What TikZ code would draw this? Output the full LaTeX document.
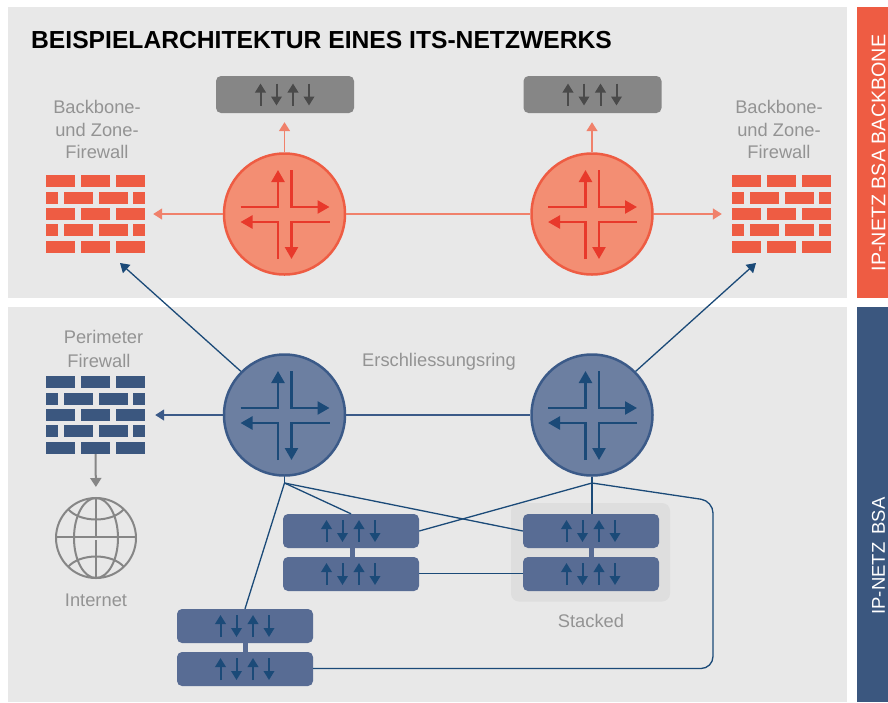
\documentclass[tikz,border=0pt]{standalone}
\usepackage{fontspec}
\setmainfont{Liberation Sans}
\usetikzlibrary{arrows.meta}
\definecolor{panel}{HTML}{E8E8E8}
\definecolor{stackbg}{HTML}{DEDEDE}
\definecolor{orbar}{HTML}{EE5C43}
\definecolor{blbar}{HTML}{3B577F}
\definecolor{orfill}{HTML}{F38E73}
\definecolor{orline}{HTML}{EE5C43}
\definecolor{orarrow}{HTML}{E8392B}
\definecolor{orconn}{HTML}{F0816B}
\definecolor{blfill}{HTML}{6C7FA1}
\definecolor{blline}{HTML}{3B5A88}
\definecolor{blarrow}{HTML}{1B4A78}
\definecolor{swfill}{HTML}{586C94}
\definecolor{gyfill}{HTML}{868686}
\definecolor{gyarrow}{HTML}{4A4A4A}
\definecolor{gytext}{HTML}{939393}
\tikzset{
  x=1pt,y=-1pt,
  lbl/.style={text=gytext,font=\fontsize{18.3}{22.5}\selectfont,align=center,inner sep=0pt},
  barlbl/.style={text=white,rotate=90,inner sep=0pt},
  routernode/.style={circle,minimum size=121,inner sep=0pt,line width=2.5},
  swnode/.style={rounded corners=5,minimum height=34,inner sep=0pt},
  orc/.style={draw=orconn,line width=1.5},
  blc/.style={draw=blarrow,line width=1.3},
  blr/.style={draw=blline,line width=1.5},
  tipor/.style={-{Triangle[length=9,width=11]},fill=orconn},
  tipbl/.style={-{Triangle[length=9,width=11]}},
  ra/.style={line width=2.4,-{Triangle[length=12,width=13]},line join=miter},
  sa/.style={line width=2,-{Triangle[length=9,width=10.5]}},
}
% name, x, y, fill, line, arrow
\newcommand{\routerat}[6]{%
  \node[routernode,fill=#4,draw=#5] (#1) at (#2,#3) {};
  \begin{scope}[shift={(#2,#3)},draw=#6,color=#6]
    \draw[ra] (-44,-7) -- (-6.5,-7) -- (-6.5,-44);
    \draw[ra] (7,-44) -- (7,-7) -- (45,-7);
    \draw[ra] (-6.5,45) -- (-6.5,8) -- (-44,8);
    \draw[ra] (45,8) -- (7,8) -- (7,45);
  \end{scope}}
% name, x, y, width, fill, arrow, height
\newcommand{\switchat}[7]{%
  \node[swnode,minimum width=#4,minimum height=#7,fill=#5] (#1) at (#2,#3) {};
  \begin{scope}[shift={(#2,#3)},color=#6]
    \draw[sa] (-24.5,11) -- (-24.5,-11);
    \draw[sa] (-8.5,-11) -- (-8.5,11);
    \draw[sa] (8,11) -- (8,-11);
    \draw[sa] (24,-11) -- (24,11);
  \end{scope}}
% name, x-left, y-top, colour
\newcommand{\firewallat}[4]{%
  \node[minimum width=99,minimum height=78,inner sep=0pt] (#1) at (#2+49.5,#3+39) {};
  \begin{scope}[shift={(#2,#3)}]
    \foreach \yy in {0,33,66}{
      \fill[#4] (0,\yy) rectangle +(29,12);
      \fill[#4] (35,\yy) rectangle +(29,12);
      \fill[#4] (70,\yy) rectangle +(29,12);}
    \foreach \yy in {17,49}{
      \fill[#4] (0,\yy) rectangle +(12,12);
      \fill[#4] (18,\yy) rectangle +(29,12);
      \fill[#4] (53,\yy) rectangle +(29,12);
      \fill[#4] (87,\yy) rectangle +(12,12);}
  \end{scope}}
\begin{document}
\begin{tikzpicture}
\useasboundingbox (0,0) rectangle (888,702);
\fill[white] (0,0) rectangle (888,702);
% panels
\fill[panel] (8,7) rectangle (847,298);
\fill[panel] (8,307) rectangle (847,702);
\fill[orbar] (857,7) rectangle (888,298);
\fill[blbar] (857,307) rectangle (888,702);
\node[barlbl,font=\fontsize{19.7}{22}\selectfont] (barTop) at (878.5,153) {IP-NETZ BSA BACKBONE};
\node[barlbl,font=\fontsize{18.5}{22}\selectfont] (barBot) at (878.5,556) {IP-NETZ\, BSA};
\node[anchor=base west,inner sep=0pt,font=\fontsize{24.65}{26}\selectfont\bfseries] (title) at (31,48.5) {BEISPIELARCHITEKTUR EINES ITS-NETZWERKS};
% stacked backdrop
\fill[stackbg,rounded corners=8] (511,503) rectangle (670,601.5);
% routers
\routerat{r1}{284.5}{214}{orfill}{orline}{orarrow}
\routerat{r2}{592}{214}{orfill}{orline}{orarrow}
\routerat{r3}{284.5}{415}{blfill}{blline}{blarrow}
\routerat{r4}{592}{415}{blfill}{blline}{blarrow}
% grey switches
\switchat{g1}{285}{94.5}{138}{gyfill}{gyarrow}{37}
\switchat{g2}{592.5}{94.5}{138}{gyfill}{gyarrow}{37}
% firewalls
\firewallat{fw1}{46}{175}{orbar}
\firewallat{fw2}{732}{175}{orbar}
\firewallat{fw3}{46}{376}{blbar}
% blue switches
\fill[swfill] (349.5,540) rectangle (354.5,565);
\fill[swfill] (588.5,540) rectangle (593.5,565);
\fill[swfill] (242.5,635) rectangle (247.5,660);
\switchat{a1}{351}{531}{136}{swfill}{blarrow}{34}
\switchat{a2}{351}{574}{136}{swfill}{blarrow}{34}
\switchat{b1}{591}{531}{136}{swfill}{blarrow}{34}
\switchat{b2}{591}{574}{136}{swfill}{blarrow}{34}
\switchat{c1}{245}{626}{136}{swfill}{blarrow}{34}
\switchat{c2}{245}{669}{136}{swfill}{blarrow}{34}
% labels
\node[lbl] (l1) at (97,129.5) {Backbone-\\und Zone-\\Firewall};
\node[lbl] (l2) at (779,129.5) {Backbone-\\und Zone-\\Firewall};
\node[lbl,font=\fontsize{18.3}{24}\selectfont] (l3) at (103.5,349) {Perimeter\\Firewall\hspace*{9pt}};
\node[lbl] (l4) at (439,362) {Erschliessungsring};
\node[lbl] (l5) at (96,600) {Internet};
\node[lbl] (l6) at (591,621) {Stacked};
% orange connectors
\draw[orc] (r1) -- (r2);
\draw[orc,tipor,shorten >=8] (r1.west) -- (fw1.east);
\draw[orc,tipor,shorten >=10] (r2.east) -- (fw2.west);
\draw[orc,tipor,shorten >=9] (r1.north) -- (r1.north |- g1.south);
\draw[orc,tipor,shorten >=9] (r2.north) -- (r2.north |- g2.south);
% blue connectors
\coordinate (t1) at (120,263);
\coordinate (t2) at (756,263);
\coordinate (j3) at (284.5,483);
\coordinate (j4) at (592,483);
\draw[blc,tipbl] (r3.135) -- (t1);
\draw[blc,tipbl] (r4.45) -- (t2);
\draw[blr] (r3) -- (r4);
\draw[blr,tipbl,shorten >=10] (r3.west) -- (fw3.east);
\draw[blc] (r3.south) -- (j3);
\draw[blc] (j3) -- (a1.north);
\draw[blc] (j3) -- (b1.west);
\draw[blc] (j3) -- (c1.north);
\draw[blc] (r4.south) -- (r4.south |- b1.north);
\draw[blc] (j4) -- (a1.east);
\draw[blc] ([yshift=0.5]a2.east) -- ([yshift=0.5]b2.west);
\draw[blc,rounded corners=12] (j4) -- (713,501) -- (713,668.5) -- ([yshift=0.5]c2.east);
% internet
\coordinate (globe) at (96,538);
\node[circle,minimum size=80,inner sep=0pt,draw=gyfill,line width=2] (inet) at (globe) {};
\draw[gyfill,line width=2,-{Triangle[length=9,width=11]},fill=gyfill,shorten >=10] (fw3.south) -- (inet.north);
\begin{scope}[shift={(globe)},draw=gyfill,line width=2]
  \draw (-40,-1) -- (40,-1);
  \draw (0,-40) -- (0,-2);
  \draw (0,2) -- (0,40);
  \draw (0,0) ellipse [x radius=22,y radius=40];
  \draw (-28,-29) .. controls (-16,-15) and (16,-15) .. (28,-29);
  \draw (-28,29) .. controls (-16,15) and (16,15) .. (28,29);
\end{scope}
\end{tikzpicture}
\end{document}
